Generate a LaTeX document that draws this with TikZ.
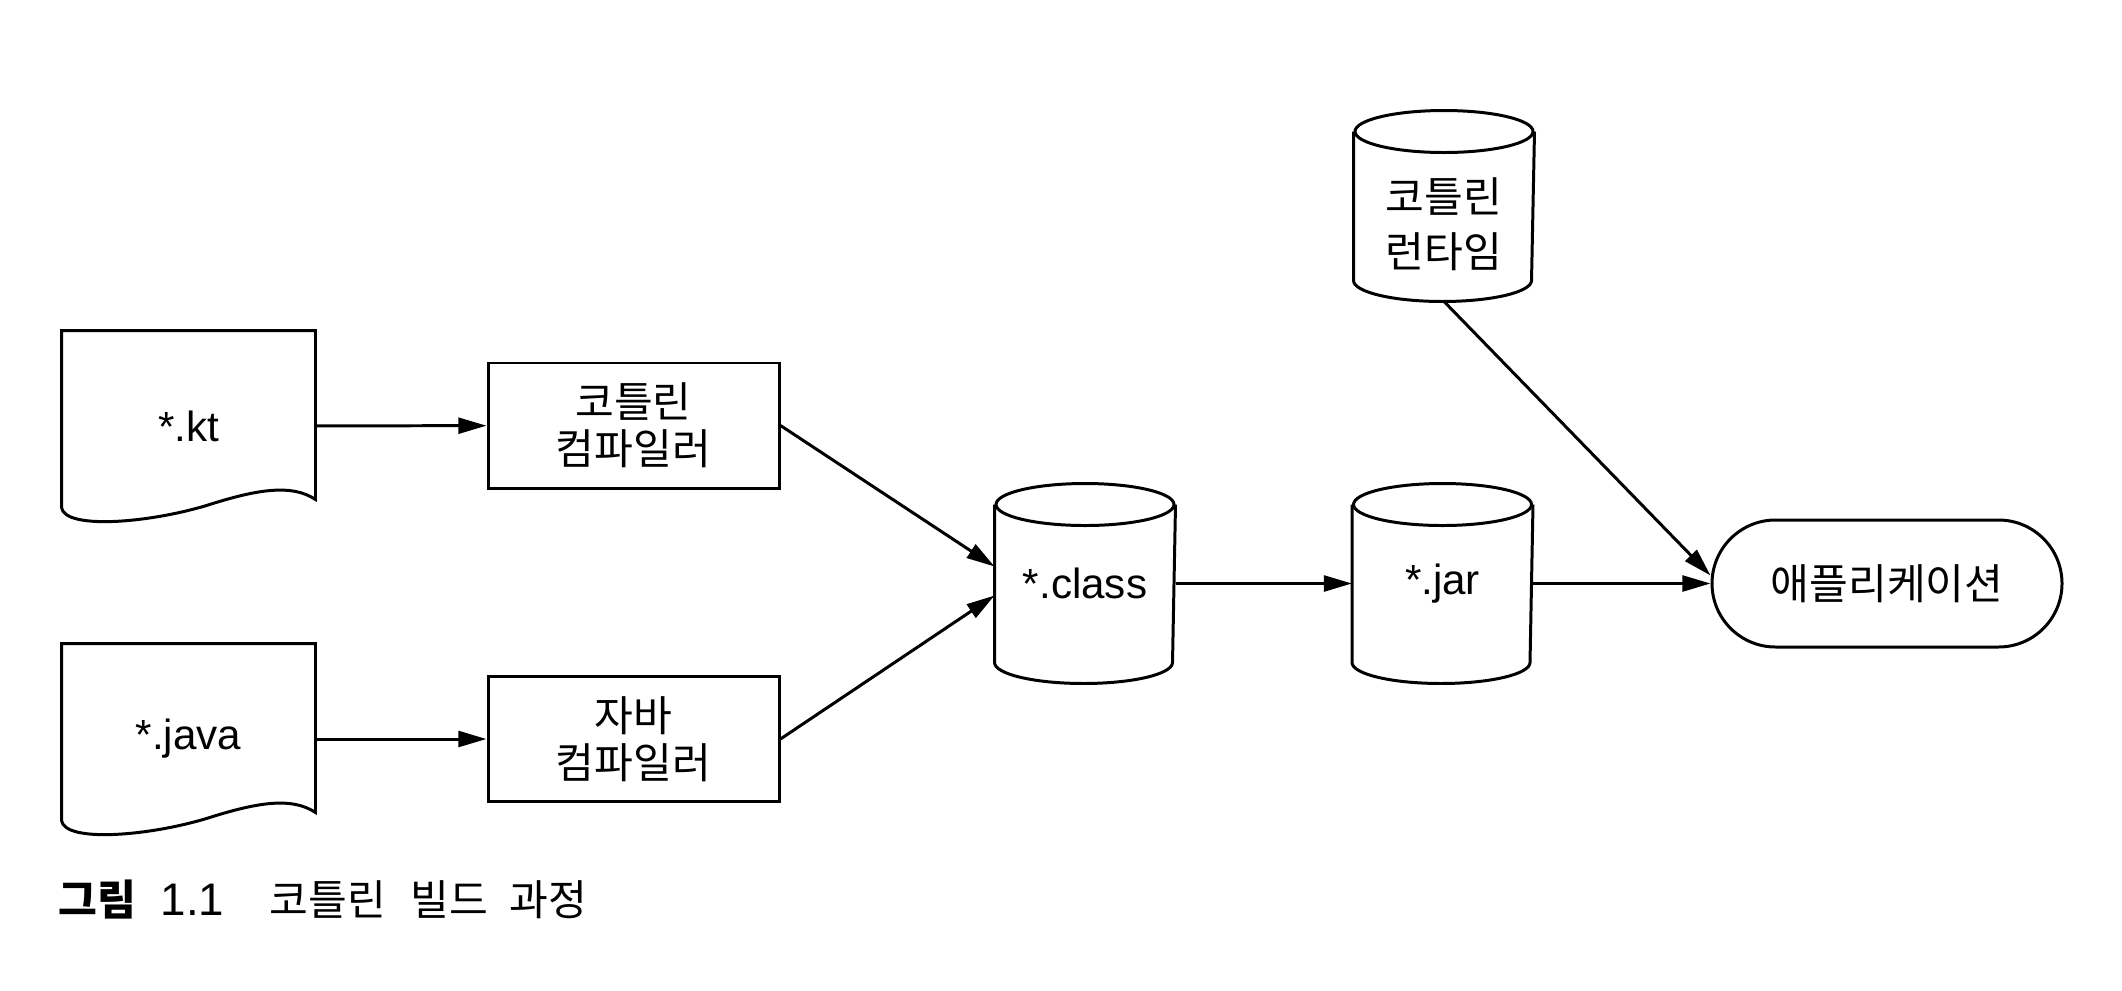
\documentclass[tikz,border=0pt]{standalone}
\usepackage{fontspec}
\setmainfont{Liberation Sans}
\newfontfamily\kr{Noto Sans CJK KR}
\usetikzlibrary{arrows.meta}

% source file: rectangle with a wavy bottom edge
\newcommand\drawdoc[1]{%
  \draw (#1.north west) -- ([yshift=0.14cm]#1.south west)
    .. controls ([xshift=0.03cm,yshift=-0.08cm]#1.south west)
           and ([xshift=0.85cm,yshift=-0.02cm]#1.south west)
    .. ([xshift=1.45cm,yshift=0.16cm]#1.south west)
    .. controls ([xshift=1.95cm,yshift=0.32cm]#1.south west)
           and ([xshift=2.3cm,yshift=0.38cm]#1.south west)
    .. ([yshift=0.22cm]#1.south east) -- (#1.north east) -- cycle;}

% storage cylinder drawn around a node
\newcommand\drawstore[1]{%
  \draw ([yshift=-0.21cm]#1.north west) -- ([yshift=0.21cm]#1.south west)
    arc[start angle=180, end angle=360, x radius=0.89cm, y radius=0.21cm]
    -- ([yshift=-0.21cm]#1.north east);
  \draw ([yshift=-0.21cm]#1.north) ellipse [x radius=0.89cm, y radius=0.21cm];}

\begin{document}
\begin{tikzpicture}[
  line width=0.85pt,
  every node/.style={font=\fontsize{12pt}{13.4pt}\selectfont, inner sep=0pt, align=center},
  docnode/.style={minimum width=2.51cm, minimum height=1.88cm},
  procbox/.style={draw, minimum width=2.91cm, minimum height=1.25cm},
  store/.style={minimum width=1.78cm, minimum height=1.97cm},
  appbox/.style={draw, rounded corners=0.635cm, minimum width=3.5cm, minimum height=1.27cm},
  flow/.style={-{Triangle[length=8pt,width=4.5pt]}},
]
\useasboundingbox (0,0) rectangle (21.22,-9.9);

% sources
\node[docnode] (kt) at (1.885,-4.26) {*.kt};
\node[docnode] (java) at (1.885,-7.39) {*.java};
\drawdoc{kt}
\drawdoc{java}

% compilers
\node[procbox] (comp1) at (6.335,-4.255) {\kr 코틀린\\\kr 컴파일러};
\node[procbox] (comp2) at (6.335,-7.39) {\kr 자바\\\kr 컴파일러};

% storages
\node[store] (class) at (10.85,-5.835) {*.class};
\node[store] (jar) at (14.425,-5.835) {*.jar};
\node[store, minimum height=1.88cm] (rt) at (14.44,-2.06) {};
\node[font=\fontsize{12pt}{15.6pt}\selectfont] (rtlabel) at (14.44,-2.245) {\kr 코틀린\\\kr 런타임};
\drawstore{class}
\drawstore{jar}
\drawstore{rt}

% application
\node[appbox] (app) at (18.87,-5.835) {\kr 애플리케이션};

% flow
\draw[flow] (kt) -- (comp1);
\draw[flow] (java) -- (comp2);
\draw[flow] (comp1.east) -- ([yshift=0.17cm]class.west);
\draw[flow] (comp2.east) -- ([yshift=-0.12cm]class.west);
\draw[flow] (class) -- (jar);
\draw[flow] (jar) -- (app);
\draw[flow] (rt.south) -- ([yshift=0.08cm]app.west);

% caption
\node[anchor=west] (cap) at (0.57,-9.0)
  {{\kr\bfseries 그림}\hspace{7pt}{\fontsize{13pt}{14pt}\selectfont 1.1}\hspace{13pt}{\kr 코틀린\hspace{7pt}빌드\hspace{6pt}과정}};
\end{tikzpicture}
\end{document}
